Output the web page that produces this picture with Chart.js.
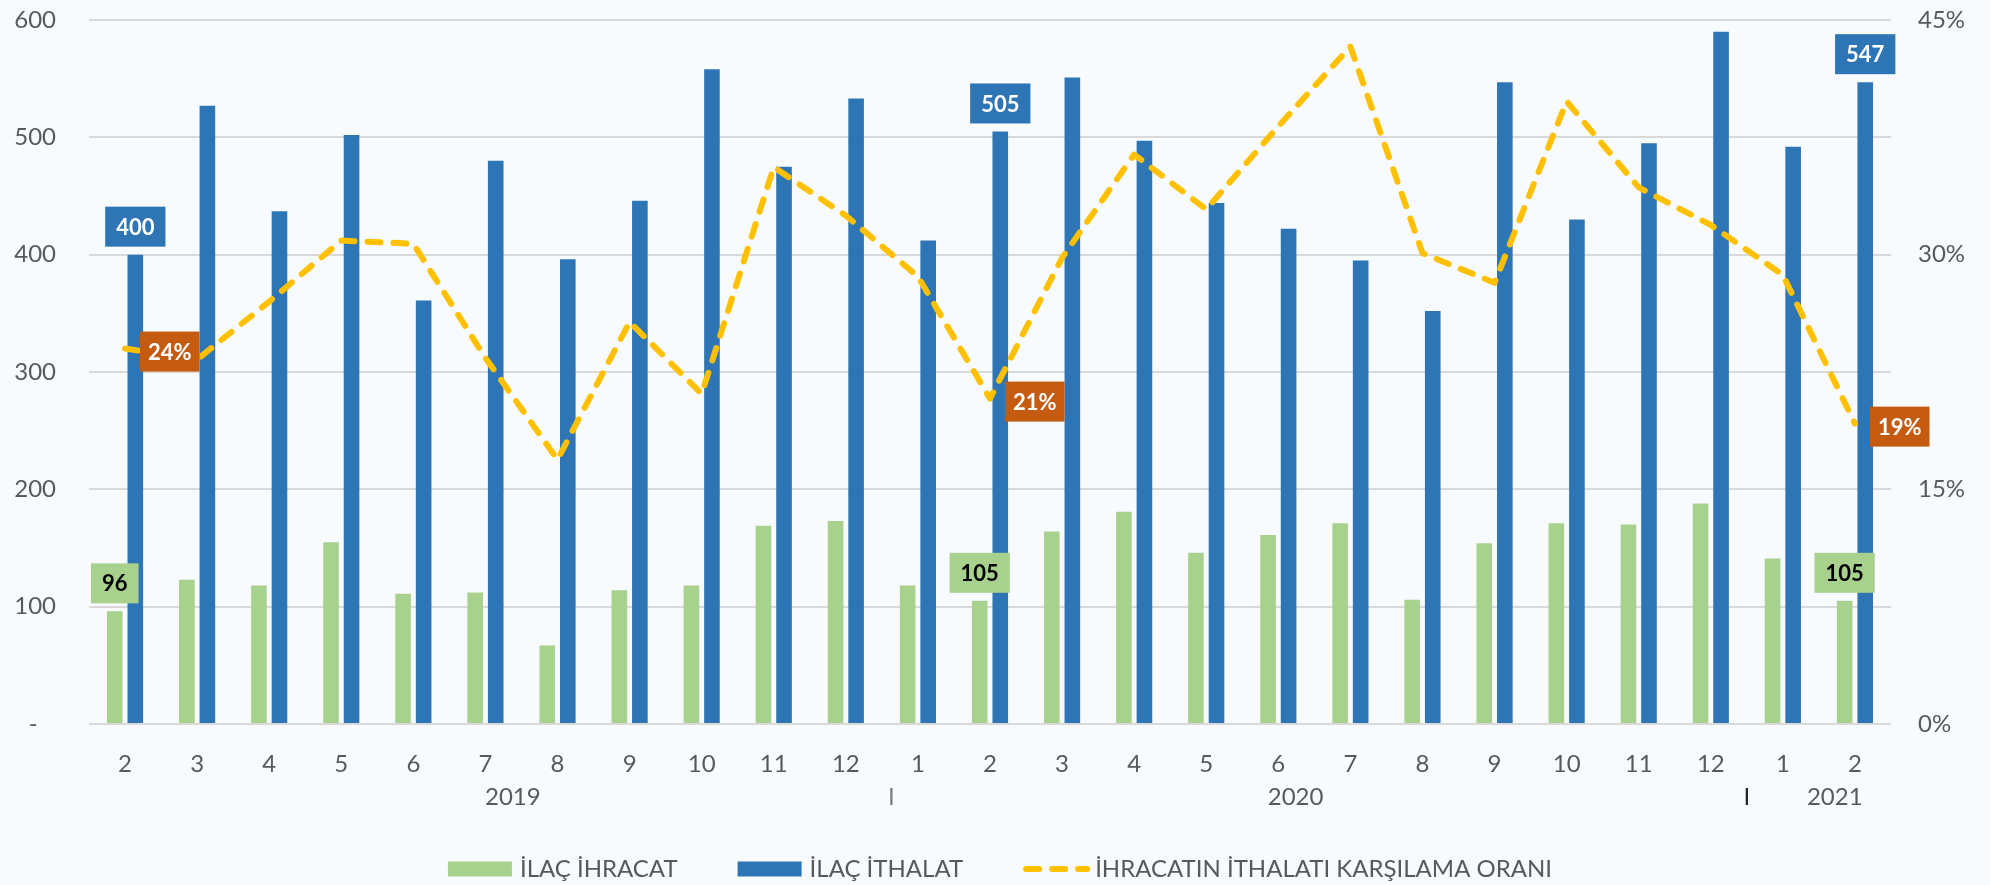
<!DOCTYPE html>
<html lang="tr">
  <head>
    <meta charset="UTF-8" />
    <title>İlaç İhracat / İthalat</title>
    <script src="https://cdn.jsdelivr.net/npm/chart.js"></script>
    <style>
      body {
        margin: 0;
        background-color: #f7fbfe;
      }
      .chart-box {
        width: 1990px;
        height: 885px;
      }
    </style>
  </head>
  <body>
    <div class="chart-box">
      <canvas id="tradeChart"></canvas>
    </div>

    <script>
      // Aylar (2019/2 - 2021/2)
      const months = ["2", "3", "4", "5", "6", "7", "8", "9", "10", "11", "12",
        "1", "2", "3", "4", "5", "6", "7", "8", "9", "10", "11", "12", "1", "2"];
      const years = ["2019", "2020", "2021"];

      // İlaç ihracat (mn $)
      const ihracat = [96, 123, 118, 155, 111, 112, 67, 114, 118, 169, 173,
        118, 105, 164, 181, 146, 161, 171, 106, 154, 171, 170, 188, 141, 105];
      // İlaç ithalat (mn $)
      const ithalat = [400, 527, 437, 502, 361, 480, 396, 446, 558, 475, 533,
        412, 505, 551, 497, 444, 422, 395, 352, 547, 430, 495, 590, 492, 547];
      // İhracatın ithalatı karşılama oranı (%)
      const oran = [24.0, 23.3, 27.0, 30.9, 30.7, 23.4, 16.9, 25.7, 21.1, 35.6, 32.5,
        28.6, 20.8, 29.8, 36.4, 32.9, 38.2, 43.3, 30.1, 28.2, 39.8, 34.3, 31.9, 28.7, 19.2];

      // Etiket gösterilen noktalar
      const labelIdx = [0, 12, 24];

      const leftTicks = [0, 600, 100];
      const rightTicks = [0, 45, 15];

      const FONT = "Lato, 'Open Sans', sans-serif";
      const GREY = "#595959";

      function drawBox(ctx, cx, cy, text, fill, color, pad) {
        const w = ctx.measureText(text).width + pad * 2;
        const h = 40;
        ctx.fillStyle = fill;
        ctx.fillRect(cx - w / 2, cy - h / 2, w, h);
        ctx.fillStyle = color;
        ctx.fillText(text, cx, cy + 1);
        return w;
      }

      // Kutulu veri etiketleri
      const boxLabels = {
        id: "boxLabels",
        afterDatasetsDraw(chart) {
          const ctx = chart.ctx;
          ctx.save();
          ctx.font = "bold 22px " + FONT;
          ctx.textAlign = "center";
          ctx.textBaseline = "middle";
          labelIdx.forEach((i) => {
            const g = chart.getDatasetMeta(1).data[i];
            drawBox(ctx, g.x, g.y - 28, String(ihracat[i]), "#A9D18E", "#000", 11);
            const b = chart.getDatasetMeta(2).data[i];
            drawBox(ctx, b.x, b.y - 28, String(ithalat[i]), "#2E75B6", "#fff", 11);
            const p = chart.getDatasetMeta(0).data[i];
            const t = Math.round(oran[i]) + "%";
            const w = ctx.measureText(t).width + 16;
            drawBox(ctx, p.x + 15 + w / 2, p.y + 3, t, "#C55A11", "#fff", 8);
          });
          ctx.restore();
        },
      };

      // Yıl etiketleri ve alt lejant
      const extras = {
        id: "extras",
        afterDraw(chart) {
          const ctx = chart.ctx;
          const x = chart.scales.x;
          const at = (v) => {
            const i = Math.floor(v);
            const a = x.getPixelForValue(i);
            const b = x.getPixelForValue(i + 1);
            return a + (b - a) * (v - i);
          };
          ctx.save();
          ctx.font = "24px " + FONT;
          ctx.textAlign = "center";
          ctx.textBaseline = "middle";
          ctx.fillStyle = GREY;
          const yearPos = [5.38, 16.24, 23.72];
          years.forEach((y, k) => ctx.fillText(y, at(yearPos[k]), 797));
          ctx.fillStyle = "#7f7f7f";
          ctx.fillText("I", at(10.63), 797);
          ctx.fillStyle = "#262626";
          ctx.fillText("I", at(22.5), 797);

          // lejant
          const items = [
            { text: "İLAÇ İHRACAT", color: "#A9D18E", line: false },
            { text: "İLAÇ İTHALAT", color: "#2E75B6", line: false },
            { text: "İHRACATIN İTHALATI KARŞILAMA ORANI", color: "#FFC000", line: true },
          ];
          const boxW = 64, gap = 8, space = 60, ly = 869;
          const widths = items.map((it) => boxW + gap + ctx.measureText(it.text).width);
          const total = widths.reduce((s, w) => s + w, 0) + space * (items.length - 1);
          let lx = chart.width / 2 + 5 - total / 2;
          ctx.textAlign = "left";
          items.forEach((it, k) => {
            if (it.line) {
              ctx.strokeStyle = it.color;
              ctx.lineWidth = 6;
              ctx.lineCap = "round";
              ctx.setLineDash([13, 13]);
              ctx.beginPath();
              ctx.moveTo(lx + 3, ly);
              ctx.lineTo(lx + boxW, ly);
              ctx.stroke();
              ctx.setLineDash([]);
            } else {
              ctx.fillStyle = it.color;
              ctx.fillRect(lx, ly - 7.5, boxW, 15);
            }
            ctx.fillStyle = GREY;
            ctx.fillText(it.text, lx + boxW + gap, ly);
            lx += widths[k] + space;
          });
          ctx.restore();
        },
      };

      const ctx = document.getElementById("tradeChart").getContext("2d");
      new Chart(ctx, {
        data: {
          labels: months,
          datasets: [
            {
              type: "line",
              label: "İHRACATIN İTHALATI KARŞILAMA ORANI",
              data: oran,
              yAxisID: "y1",
              borderColor: "#FFC000",
              borderWidth: 6,
              borderDash: [13, 13],
              borderCapStyle: "round",
              borderJoinStyle: "round",
              pointRadius: 0,
              tension: 0,
              order: 0,
            },
            {
              type: "bar",
              label: "İLAÇ İHRACAT",
              data: ihracat,
              backgroundColor: "#A9D18E",
              yAxisID: "y",
              order: 1,
            },
            {
              type: "bar",
              label: "İLAÇ İTHALAT",
              data: ithalat,
              backgroundColor: "#2E75B6",
              yAxisID: "y",
              order: 1,
            },
          ],
        },
        options: {
          responsive: true,
          maintainAspectRatio: false,
          animation: false,
          layout: { padding: { top: 20, bottom: 0, left: 0, right: 0 } },
          datasets: {
            bar: { categoryPercentage: 0.57, barPercentage: 0.76 },
          },
          plugins: {
            legend: { display: false },
            tooltip: { enabled: false },
          },
          scales: {
            x: {
              grid: { display: false, drawTicks: false },
              border: { display: false },
              ticks: {
                color: GREY,
                font: { family: FONT, size: 24 },
                padding: 26,
                autoSkip: false,
                maxRotation: 0,
              },
              afterFit(scale) {
                scale.height = 161;
                scale.paddingLeft = 0;
                scale.paddingRight = 0;
              },
            },
            y: {
              position: "left",
              min: leftTicks[0],
              max: leftTicks[1],
              grid: { color: "#D9D9D9", lineWidth: 2, drawTicks: false },
              border: { display: false },
              ticks: {
                stepSize: leftTicks[2],
                color: GREY,
                font: { family: FONT, size: 24 },
                padding: 33,
                callback: (v) => (v === 0 ? "-   " : v),
              },
              afterFit(scale) {
                scale.width = 89;
                scale.paddingTop = 0;
                scale.paddingBottom = 0;
              },
            },
            y1: {
              position: "right",
              min: rightTicks[0],
              max: rightTicks[1],
              grid: { display: false, drawTicks: false },
              border: { display: false },
              ticks: {
                stepSize: rightTicks[2],
                color: GREY,
                font: { family: FONT, size: 24 },
                padding: 27,
                callback: (v) => v + "%",
              },
              afterFit(scale) {
                scale.width = 99;
                scale.paddingTop = 0;
                scale.paddingBottom = 0;
              },
            },
          },
        },
        plugins: [boxLabels, extras],
      });
    </script>
  </body>
</html>
